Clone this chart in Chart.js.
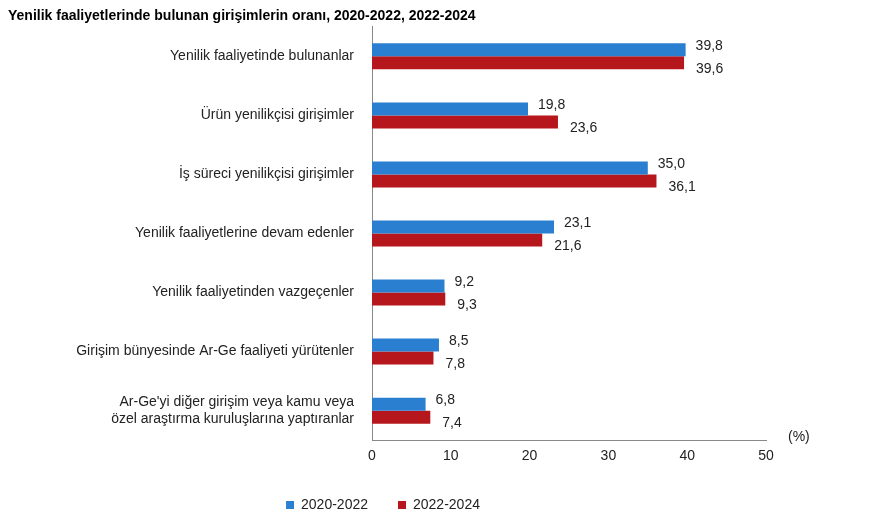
<!DOCTYPE html>
<html><head><meta charset="utf-8">
<script src="https://cdn.jsdelivr.net/npm/chart.js@4"></script>
<style>body{margin:0;background:#fff}#w{width:885px;height:528px;position:relative}</style>
</head><body><div id="w"><canvas id="c"></canvas></div>
<script>
const categories=["Yenilik faaliyetinde bulunanlar","Ürün yenilikçisi girişimler","İş süreci yenilikçisi girişimler","Yenilik faaliyetlerine devam edenler","Yenilik faaliyetinden vazgeçenler","Girişim bünyesinde Ar-Ge faaliyeti yürütenler",["Ar-Ge'yi diğer girişim veya kamu veya","özel araştırma kuruluşlarına yaptıranlar"]];
const s2020=[39.8,19.8,35.0,23.1,9.2,8.5,6.8];
const s2022=[39.6,23.6,36.1,21.6,9.3,7.8,7.4];
const FONT="'Liberation Sans', Arial, sans-serif";
const labels={id:'lbl',afterDatasetsDraw(ch){const c=ch.ctx;c.save();c.font="14px "+FONT;c.fillStyle="#222";c.textBaseline="middle";
ch.data.datasets.forEach((d,i)=>{ch.getDatasetMeta(i).data.forEach((b,j)=>{c.fillText(d.data[j].toFixed(1).replace('.',','),b.x+(i?12:10),b.y+(i?6:-4));});});
c.textAlign="left";c.fillText("(%)",788,437);
c.font="bold 14px "+FONT;c.fillStyle="#000";c.fillText("Yenilik faaliyetlerinde bulunan girişimlerin oranı, 2020-2022, 2022-2024",8,16);c.restore();}};
new Chart(document.getElementById('c'),{type:'bar',data:{labels:categories,datasets:[
{label:'2020-2022',data:s2020,backgroundColor:'#2B7FD0',categoryPercentage:0.44,barPercentage:1},
{label:'2022-2024',data:s2022,backgroundColor:'#B5171D',categoryPercentage:0.44,barPercentage:1}]},
options:{indexAxis:'y',responsive:true,maintainAspectRatio:false,animation:false,
layout:{padding:{top:24,right:119,left:0,bottom:6}},
plugins:{legend:{position:'bottom',labels:{boxWidth:8,boxHeight:8,font:{size:14,family:FONT},color:'#222',padding:30}},tooltip:{enabled:false}},
scales:{x:{min:0,max:50,ticks:{stepSize:10,font:{size:14,family:FONT},color:'#222'},grid:{display:false,drawTicks:true,tickLength:5},border:{color:'#888'}},
y:{afterFit(a){a.width=372;},ticks:{font:{size:14,family:FONT},color:'#222',padding:10},grid:{display:false},border:{color:'#888'}}}},
plugins:[labels]});
</script></body></html>
